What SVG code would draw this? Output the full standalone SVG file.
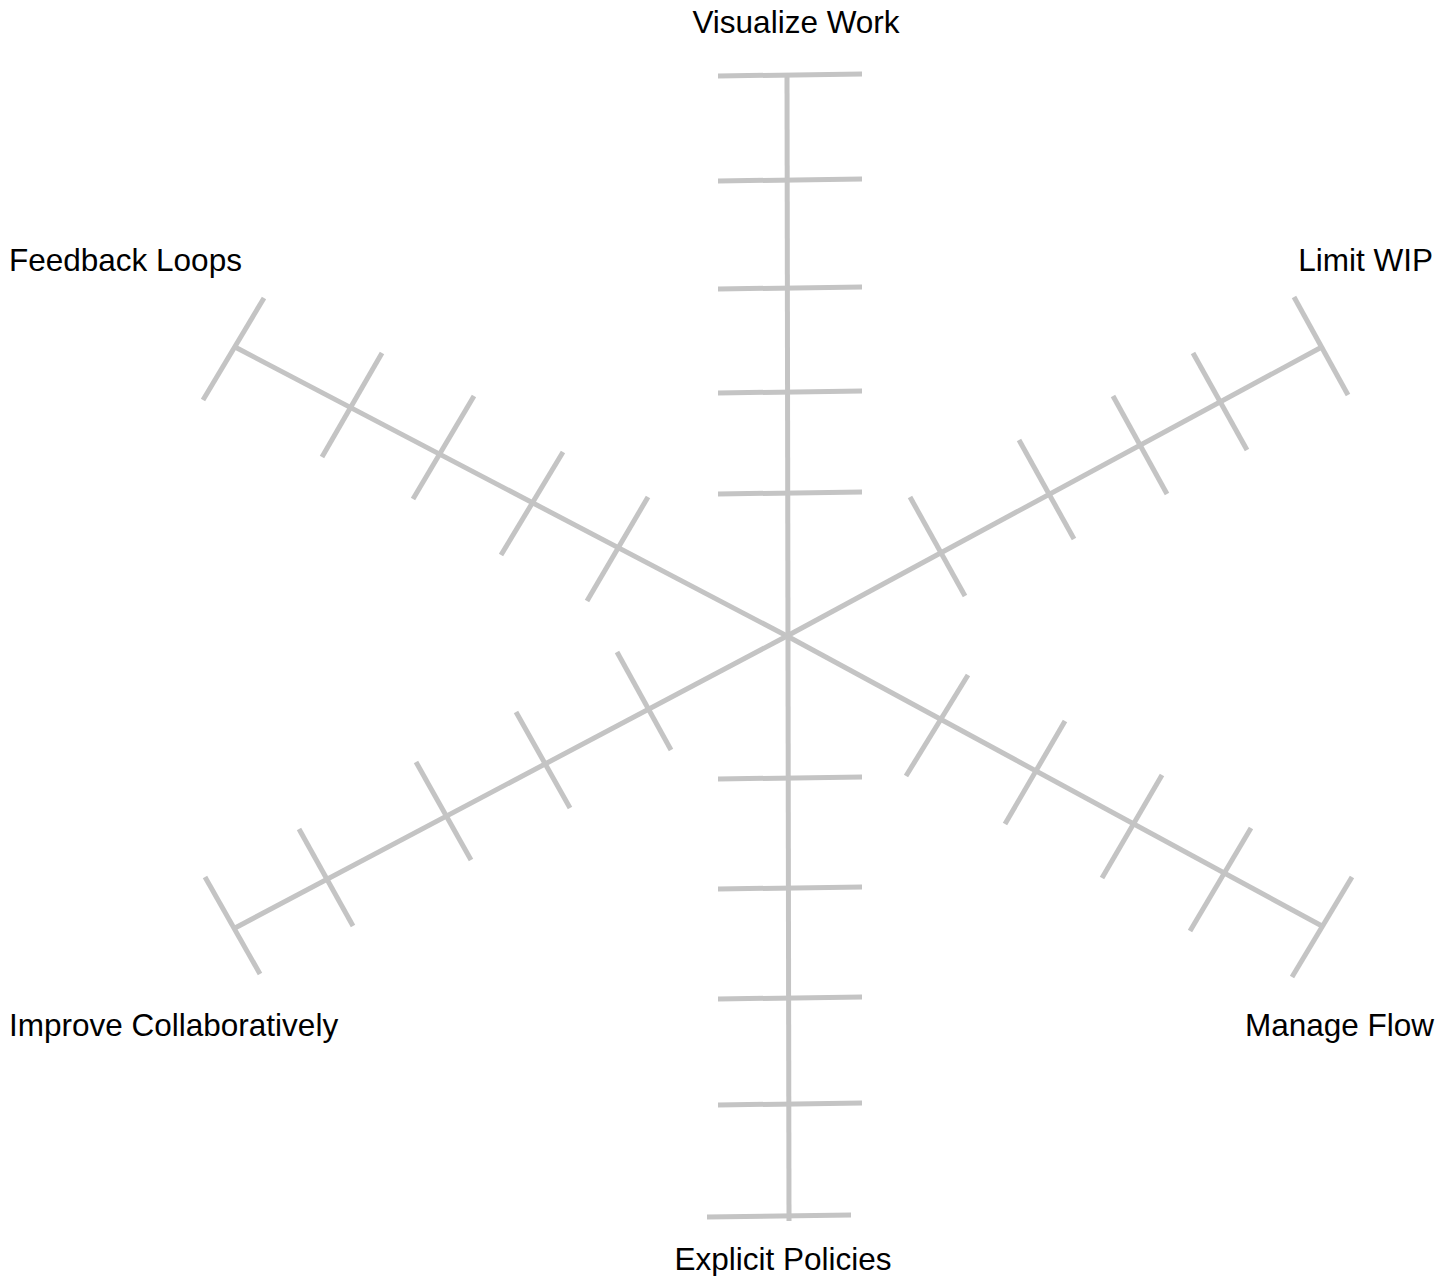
<svg xmlns="http://www.w3.org/2000/svg" width="1450" height="1276" viewBox="0 0 1450 1276">
<style>
.ax line{stroke:#c4c4c4;stroke-width:5;stroke-linecap:butt;fill:none}
text{font-family:"Liberation Sans",Arial,sans-serif;font-size:31.5px;fill:#000}
</style>
<rect width="1450" height="1276" fill="#fff"/>
<g id="connectors" class="ax">
<!-- vertical axis -->
<line x1="787" y1="75" x2="789" y2="1221"/>
<line x1="718" y1="76" x2="862" y2="74"/>
<line x1="718" y1="181" x2="862" y2="179"/>
<line x1="718" y1="289" x2="862" y2="287"/>
<line x1="718" y1="393" x2="862" y2="391"/>
<line x1="718" y1="494" x2="862" y2="492"/>
<line x1="718" y1="779" x2="862" y2="777"/>
<line x1="718" y1="889" x2="862" y2="887"/>
<line x1="718" y1="999" x2="862" y2="997"/>
<line x1="718" y1="1105" x2="862" y2="1103"/>
<line x1="707" y1="1217" x2="851" y2="1215"/>
<!-- upper-left axis -->
<line x1="235" y1="347" x2="787" y2="636"/>
<line x1="203" y1="400" x2="264" y2="298"/>
<line x1="322" y1="457" x2="382" y2="353"/>
<line x1="413" y1="499" x2="474" y2="396"/>
<line x1="501" y1="555" x2="563" y2="452"/>
<line x1="587" y1="601" x2="648" y2="497"/>
<!-- upper-right axis -->
<line x1="1320" y1="348" x2="787" y2="636"/>
<line x1="1294" y1="297" x2="1348" y2="395"/>
<line x1="1193" y1="353" x2="1247" y2="450"/>
<line x1="1113" y1="396" x2="1167" y2="494"/>
<line x1="1019" y1="440" x2="1074" y2="539"/>
<line x1="910" y1="497" x2="965" y2="596"/>
<!-- lower-right axis -->
<line x1="787" y1="636" x2="1322" y2="926"/>
<line x1="1352" y1="877" x2="1292" y2="977"/>
<line x1="1251" y1="828" x2="1190" y2="931"/>
<line x1="1162" y1="775" x2="1102" y2="878"/>
<line x1="1065" y1="721" x2="1005" y2="824"/>
<line x1="968" y1="675" x2="906" y2="776"/>
<!-- lower-left axis -->
<line x1="787" y1="636" x2="235" y2="928"/>
<line x1="205" y1="877" x2="260" y2="974"/>
<line x1="299" y1="829" x2="353" y2="926"/>
<line x1="416" y1="762" x2="471" y2="860"/>
<line x1="516" y1="712" x2="570" y2="808"/>
<line x1="617" y1="652" x2="671" y2="750"/>
</g>
<g id="label-visualize-work"><text x="796" y="33" text-anchor="middle">Visualize Work</text></g>
<g id="label-limit-wip"><text x="1433" y="271" text-anchor="end">Limit WIP</text></g>
<g id="label-manage-flow"><text x="1434" y="1036" text-anchor="end">Manage Flow</text></g>
<g id="label-explicit-policies"><text x="783" y="1270" text-anchor="middle">Explicit Policies</text></g>
<g id="label-improve-collaboratively"><text x="9" y="1036">Improve Collaboratively</text></g>
<g id="label-feedback-loops"><text x="9" y="271">Feedback Loops</text></g>
</svg>
